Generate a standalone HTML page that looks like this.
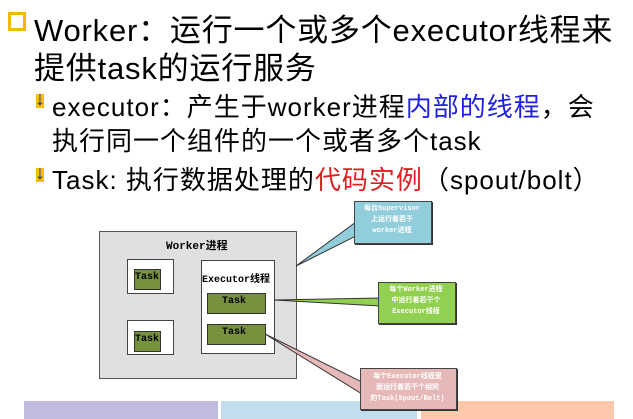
<!DOCTYPE html>
<html><head><meta charset="utf-8"><style>
body{margin:0;width:633px;height:419px;background:#fff;position:relative;overflow:hidden;font-family:"Liberation Sans","Noto Sans CJK SC",sans-serif;}
.t{position:absolute;white-space:nowrap;color:#000;}
.b{position:absolute;}
.m{font-family:"Liberation Mono","Noto Sans CJK SC",monospace;font-weight:bold;}
</style></head><body>
<div class="b" style="left:8px;top:12px;width:12px;height:13px;border:3px solid #f5b800;"></div>
<div class="t" style="left:34px;top:5px;font-size:31px;letter-spacing:0.8px;">Worker：运行一个或多个executor线程来</div>
<div class="t" style="left:34px;top:43px;font-size:31px;letter-spacing:0.8px;">提供task的运行服务</div>
<div class="b" style="left:36px;top:94px;width:8px;height:14px;background:#f5c000;"></div>
<div class="t" style="left:35px;top:88px;font-size:20px;color:#2020c0;font-weight:bold;">↓</div>
<div class="t" style="left:52px;top:87px;font-size:26px;letter-spacing:1px;">executor：产生于worker进程<span style="color:#2020e0">内部的线程</span>，会</div>
<div class="t" style="left:52px;top:121px;font-size:26px;letter-spacing:1px;">执行同一个组件的一个或者多个task</div>
<div class="b" style="left:36px;top:168px;width:8px;height:14px;background:#f5c000;"></div>
<div class="t" style="left:35px;top:162px;font-size:20px;color:#2020c0;font-weight:bold;">↓</div>
<div class="t" style="left:52px;top:160px;font-size:26px;letter-spacing:1px;">Task: 执行数据处理的<span style="color:#e02020">代码实例</span>（spout/bolt）</div>

<div class="b" style="left:24px;top:401px;width:194px;height:18px;background:#c0bbe0"></div>
<div class="b" style="left:221px;top:401px;width:196px;height:18px;background:#c3ddef"></div>
<div class="b" style="left:421px;top:401px;width:193px;height:18px;background:#fdc9aa"></div>

<div class="b" style="left:99px;top:231px;width:196px;height:146px;background:#e0e0e0;border:1px solid #555"></div>
<div class="t m" style="left:166px;top:237px;font-size:11px;">Worker进程</div>
<div class="b" style="left:127px;top:259px;width:45px;height:33px;background:#fff;border:1px solid #444"></div>
<div class="b" style="left:134px;top:269px;width:25px;height:19px;background:#76923c;border:1px solid #333"></div>
<div class="t m" style="left:135px;top:272px;font-size:10px;">Task</div>
<div class="b" style="left:127px;top:320px;width:45px;height:33px;background:#fff;border:1px solid #444"></div>
<div class="b" style="left:134px;top:331px;width:25px;height:19px;background:#76923c;border:1px solid #333"></div>
<div class="t m" style="left:135px;top:334px;font-size:10px;">Task</div>
<div class="b" style="left:201px;top:260px;width:72px;height:92px;background:#fff;border:1px solid #444"></div>
<div class="t m" style="left:202px;top:270px;font-size:10px;">Executor线程</div>
<div class="b" style="left:207px;top:293px;width:57px;height:19px;background:#76923c;border:1px solid #333"></div>
<div class="t m" style="left:222px;top:296px;font-size:10px;">Task</div>
<div class="b" style="left:207px;top:324px;width:57px;height:19px;background:#76923c;border:1px solid #333"></div>
<div class="t m" style="left:222px;top:327px;font-size:10px;">Task</div>

<svg class="b" style="left:0;top:0" width="633" height="419">
<polygon points="296,266 356,222 356,236" fill="#92cddc" stroke="#333" stroke-width="1"/>
<polygon points="274,300 380,298 380,306" fill="#92d050" stroke="#333" stroke-width="1"/>
<polygon points="265,334 362,382 362,394" fill="#e6b9b8" stroke="#333" stroke-width="1"/>
</svg>
<div class="b" style="left:354px;top:201px;width:76px;height:41px;background:#92cddc;border:1px solid #444;box-shadow:1px 1px 0 #333"></div>
<div class="t m" style="left:354px;top:204px;width:76px;text-align:center;font-size:7px;line-height:11px;color:#fff;">每台Supervisor<br>上运行着若干<br>worker进程</div>
<div class="b" style="left:378px;top:282px;width:76px;height:40px;background:#92d050;border:1px solid #444;box-shadow:1px 1px 0 #333"></div>
<div class="t m" style="left:378px;top:285px;width:76px;text-align:center;font-size:7px;line-height:11px;color:#fff;">每个Worker进程<br>中运行着若干个<br>Executor线程</div>
<div class="b" style="left:360px;top:368px;width:95px;height:40px;background:#e6b9b8;border:1px solid #444;box-shadow:1px 1px 0 #333"></div>
<div class="t m" style="left:360px;top:372px;width:95px;text-align:center;font-size:7px;line-height:11px;color:#fff;">每个Executor线程里<br>面运行着若干个相同<br>的Task(Spout/Bolt)</div>
</body></html>
